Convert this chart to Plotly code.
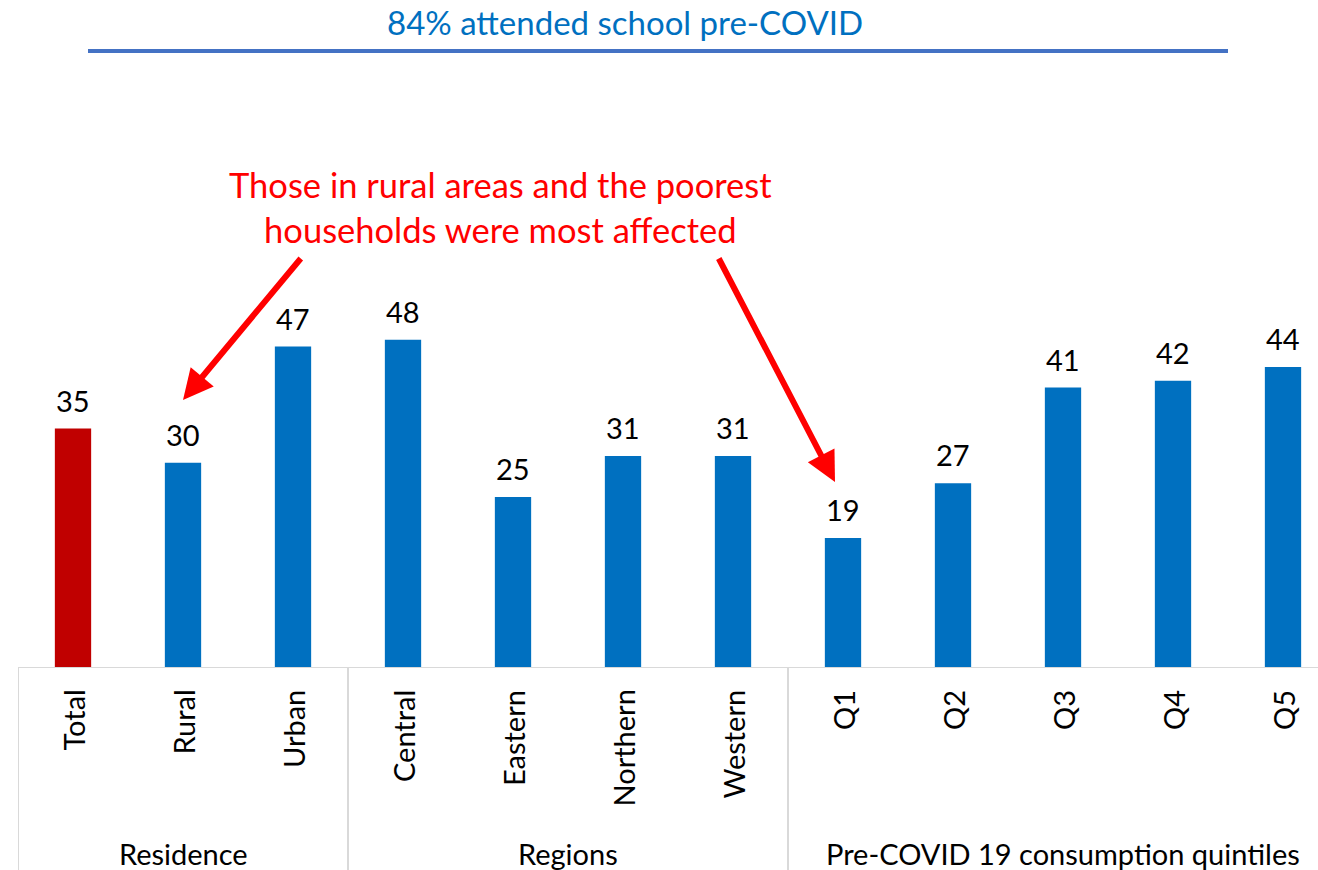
import plotly.graph_objects as go

# Share of children affected, by group
categories = ["Total", "Rural", "Urban", "Central", "Eastern", "Northern", "Western",
              "Q1", "Q2", "Q3", "Q4", "Q5"]
values = [35, 30, 47, 48, 25, 31, 31, 19, 27, 41, 42, 44]
bar_colors = ["#C00000"] + ["#0070C0"] * 11

groups = ["Residence", "Regions", "Pre-COVID 19 consumption quintiles"]
group_centers = [1, 4.5, 9]
group_bounds = [-0.5, 2.5, 6.5]

title_text = "84% attended school pre-COVID"
callout_text = "Those in rural areas and the poorest<br>households were most affected"

W, H = 1318, 870
ML, MB = 18, 202
plot_h = H - MB
px_per_unit = 6.84
FONT = "Lato, Calibri, sans-serif"
TXT = 29

x_idx = list(range(len(categories)))

fig = go.Figure()
fig.add_trace(go.Bar(
    x=x_idx, y=values, width=0.33,
    marker=dict(color=bar_colors, line=dict(width=0)),
    hoverinfo="skip",
))

ann = []
# value labels above bars
for i, v in zip(x_idx, values):
    ann.append(dict(x=i, y=v, xref="x", yref="y", text=str(v), showarrow=False,
                    yanchor="bottom", yshift=9,
                    font=dict(family=FONT, size=TXT, color="#000000")))
# rotated category labels
for i, c in zip(x_idx, categories):
    ann.append(dict(x=i, y=0, xref="x", yref="paper", text=c, showarrow=False,
                    textangle=-90, xanchor="center", yanchor="top", yshift=-20,
                    font=dict(family=FONT, size=TXT, color="#000000")))
# group labels
for g, gc in zip(groups, group_centers):
    ann.append(dict(x=gc, y=0, xref="x", yref="paper", text=g, showarrow=False,
                    yanchor="middle", yshift=-185,
                    font=dict(family=FONT, size=TXT, color="#000000")))
# heading
ann.append(dict(x=(625 - ML) / (W - ML), y=(plot_h - 22) / plot_h, xref="paper", yref="paper",
                text=title_text, showarrow=False, xanchor="center", yanchor="middle",
                font=dict(family=FONT, size=33, color="#0070C0")))
# callout text
ann.append(dict(x=(500 - ML) / (W - ML), y=(plot_h - 207) / plot_h, xref="paper", yref="paper",
                text=callout_text, showarrow=False, xanchor="center", yanchor="middle",
                font=dict(family=FONT, size=34.5, color="#FF0000")))
# callout arrows (tip in data space, tail offset in pixels)
arrows = [((183 - ML) / 110 - 0.5, (plot_h - 400) / px_per_unit, 302 - 183, 257 - 400),
          ((835 - ML) / 110 - 0.5, (plot_h - 482) / px_per_unit, 718 - 835, 257 - 482)]
for ax_x, ax_y, dx, dy in arrows:
    ann.append(dict(x=ax_x, y=ax_y, xref="x", yref="y", ax=dx, ay=dy, text="",
                    showarrow=True, arrowhead=2, arrowsize=1.0, arrowwidth=6,
                    arrowcolor="#FF0000", standoff=0))

shapes = []
# baseline
shapes.append(dict(type="line", xref="paper", yref="y", x0=0, x1=1, y0=0, y1=0,
                   line=dict(color="#D9D9D9", width=2)))
# group separators
for b in group_bounds:
    shapes.append(dict(type="line", xref="x", yref="paper", x0=b, x1=b,
                       y0=0, y1=-MB / plot_h, line=dict(color="#D9D9D9", width=2)))
# rule under heading
shapes.append(dict(type="line", xref="paper", yref="paper",
                   x0=(88 - ML) / (W - ML), x1=(1228 - ML) / (W - ML),
                   y0=(plot_h - 51) / plot_h, y1=(plot_h - 51) / plot_h,
                   line=dict(color="#4472C4", width=4)))

fig.update_layout(
    width=W, height=H,
    margin=dict(l=ML, r=0, t=0, b=MB, pad=0),
    paper_bgcolor="white", plot_bgcolor="white",
    showlegend=False,
    xaxis=dict(range=[-0.5, (W - ML) / 110 - 0.5], showticklabels=False, showgrid=False,
               zeroline=False, showline=False, ticks=""),
    yaxis=dict(range=[0, plot_h / px_per_unit], showticklabels=False, showgrid=False,
               zeroline=False, showline=False, ticks=""),
    annotations=ann, shapes=shapes,
)

fig.write_html("out.html")
